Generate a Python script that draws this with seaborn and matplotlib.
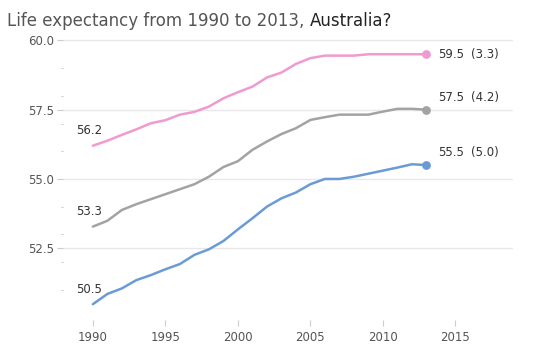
import numpy as np
import pandas as pd
import seaborn as sns
import matplotlib.pyplot as plt
from matplotlib.ticker import FixedLocator, FormatStrFormatter

years = list(range(1990, 2014))
female = [56.2, 56.38, 56.59, 56.79, 57.01, 57.12, 57.32, 57.42, 57.61, 57.91,
          58.13, 58.33, 58.66, 58.84, 59.15, 59.36, 59.45, 59.45, 59.45, 59.5,
          59.5, 59.5, 59.5, 59.5]
both = [53.28, 53.49, 53.88, 54.09, 54.27, 54.45, 54.63, 54.81, 55.08, 55.43,
        55.64, 56.05, 56.35, 56.62, 56.83, 57.13, 57.23, 57.32, 57.32, 57.32,
        57.43, 57.53, 57.53, 57.5]
male = [50.48, 50.85, 51.05, 51.35, 51.53, 51.74, 51.93, 52.26, 52.46, 52.76,
        53.18, 53.58, 54.0, 54.30, 54.51, 54.81, 55.0, 55.0, 55.08, 55.19,
        55.3, 55.41, 55.53, 55.5]
series_names = ["Female", "Both", "Male"]
colors = ["#f09bcf", "#a3a3a3", "#6b9bd5"]
start_labels = ["56.2", "53.3", "50.5"]
end_labels = ["59.5", "57.5", "55.5"]
change_labels = ["(3.3)", "(4.2)", "(5.0)"]
end_offsets = [0, 9, 9]  # label vertical offset (pt)
xticks = [1990, 1995, 2000, 2005, 2010, 2015]
yticks = [52.5, 55.0, 57.5, 60.0]

df = pd.DataFrame({
    "year": years * 3,
    "value": female + both + male,
    "series": [n for n in series_names for _ in years],
})

sns.set_style("white")
plt.rcParams["font.family"] = ["DejaVu Sans"]

fig = plt.figure(figsize=(5.36, 3.56), dpi=100)
ax = fig.add_axes([63 / 536, 36 / 356, 450 / 536, 281 / 356])

sns.lineplot(data=df, x="year", y="value", hue="series", palette=colors,
             hue_order=series_names, linewidth=1.8, legend=False, ax=ax)

for vals, col, sl, el, cl, off in zip([female, both, male], colors, start_labels,
                                      end_labels, change_labels, end_offsets):
    ax.scatter([years[-1]], [vals[-1]], s=40, color=col, zorder=5, linewidths=0)
    ax.annotate(sl, (years[0], vals[0]), xytext=(-12, 6), textcoords="offset points",
                fontsize=8.5, color="#333333", va="bottom", ha="left")
    ax.annotate(el, (years[-1], vals[-1]), xytext=(8.5, off), textcoords="offset points",
                fontsize=8.5, color="#333333", va="center", ha="left")
    ax.annotate(cl, (years[-1], vals[-1]), xytext=(32, off), textcoords="offset points",
                fontsize=8.5, color="#333333", va="center", ha="left")

ax.set_xlim(1987.94, 2018.97)
ax.set_ylim(49.91, 60.05)
ax.set_xticks(xticks)
ax.set_yticks(yticks)
ax.yaxis.set_minor_locator(FixedLocator([51, 52, 53, 54, 56, 57, 58, 59]))
ax.yaxis.set_major_formatter(FormatStrFormatter("%.1f"))
ax.set_xlabel("")
ax.set_ylabel("")
for s in ax.spines.values():
    s.set_visible(False)
ax.grid(axis="y", color="#e8e8e8", linewidth=1)
ax.grid(axis="x", visible=False)
ax.tick_params(axis="y", which="major", length=4.5, color="#cccccc", labelcolor="#555555",
               labelsize=8.5, pad=2, left=True)
ax.tick_params(axis="y", which="minor", length=1.5, color="#bbbbbb", left=True)
ax.tick_params(axis="x", which="major", length=4, color="#cccccc", labelcolor="#555555",
               labelsize=8.5, pad=4, bottom=True)

t1 = fig.text(7 / 536, 1 - 26 / 356, "Life expectancy from 1990 to 2013, ",
              fontsize=12, color="#555555", va="baseline", ha="left")
fig.canvas.draw()
bb = t1.get_window_extent()
fig.text(bb.x1 / fig.bbox.width, 1 - 26 / 356, "Australia?",
         fontsize=12, color="#222222", va="baseline", ha="left")

fig.savefig("out.png", dpi=100)
